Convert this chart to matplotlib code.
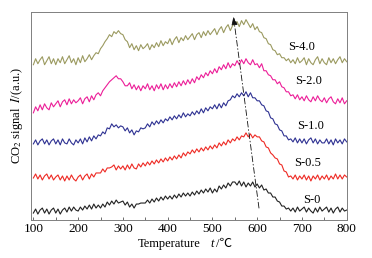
import numpy as np
import matplotlib
matplotlib.use("Agg")
import matplotlib.pyplot as plt
from matplotlib.ticker import MultipleLocator

plt.rcParams['font.family'] = ['Liberation Serif', 'DejaVu Serif']
plt.rcParams['mathtext.fontset'] = 'stix'

# Temperature grid (5 degC steps, 100..800)
temperature = np.arange(100, 801, 5)

# CO2 signal traces (offset, arbitrary units)
s_40 = [155, 161, 156, 160, 163, 155, 159, 163, 156, 161,
        155, 161, 157, 163, 156, 160, 164, 157, 161, 155,
        162, 157, 164, 158, 161, 165, 160, 164, 167, 166,
        171, 174, 178, 181, 185, 183, 188, 186, 189, 186,
        185, 180, 178, 172, 176, 170, 174, 169, 175, 171,
        173, 176, 170, 175, 172, 177, 173, 179, 174, 178,
        176, 181, 175, 180, 183, 177, 182, 179, 184, 180,
        183, 186, 180, 185, 187, 182, 188, 184, 189, 185,
        188, 191, 185, 190, 193, 187, 192, 195, 189, 194,
        196, 198, 193, 199, 195, 200, 196, 192, 196, 190,
        193, 188, 187, 182, 181, 176, 175, 170, 169, 165,
        166, 162, 162, 159, 161, 157, 160, 156, 162, 157,
        159, 162, 155, 161, 157, 155, 160, 163, 156, 161,
        157, 155, 162, 157, 161, 156, 160, 163, 157, 161,
        158]
s_20 = [107, 113, 109, 115, 110, 116, 112, 110, 117, 113,
        116, 119, 113, 118, 120, 115, 121, 116, 120, 117,
        119, 122, 116, 121, 123, 118, 124, 120, 125, 127,
        124, 129, 132, 135, 138, 140, 142, 144, 141, 141,
        138, 134, 134, 137, 131, 135, 130, 134, 129, 134,
        131, 136, 130, 134, 129, 135, 131, 136, 130, 135,
        131, 136, 132, 137, 133, 138, 134, 139, 135, 140,
        136, 141, 137, 143, 140, 145, 142, 147, 144, 149,
        146, 151, 147, 153, 150, 155, 151, 157, 152, 156,
        154, 159, 155, 160, 156, 161, 157, 155, 160, 155,
        156, 152, 156, 149, 149, 145, 144, 140, 140, 136,
        138, 133, 132, 128, 128, 124, 125, 121, 125, 120,
        123, 119, 124, 120, 118, 123, 119, 124, 120, 118,
        122, 117, 121, 123, 118, 116, 121, 117, 122, 116,
        119]
s_10 = [76, 80, 75, 79, 81, 76, 80, 75, 79, 81,
        76, 80, 75, 81, 77, 76, 81, 77, 75, 80,
        77, 81, 76, 82, 78, 83, 79, 84, 81, 85,
        84, 88, 86, 92, 91, 96, 93, 95, 92, 94,
        93, 89, 92, 87, 90, 85, 89, 88, 92, 91,
        92, 96, 93, 98, 95, 99, 96, 100, 97, 101,
        99, 103, 100, 104, 101, 105, 102, 107, 103, 106,
        104, 108, 105, 109, 106, 111, 107, 112, 109, 113,
        111, 115, 111, 116, 112, 117, 114, 119, 120, 124,
        122, 126, 123, 127, 124, 128, 123, 127, 122, 122,
        119, 119, 115, 114, 109, 108, 102, 101, 96, 95,
        90, 89, 84, 84, 80, 81, 78, 82, 77, 81,
        77, 81, 76, 80, 82, 77, 81, 76, 80, 77,
        77, 81, 76, 80, 75, 81, 77, 80, 76, 81,
        78]
s_05 = [42, 46, 41, 45, 40, 44, 46, 41, 45, 40,
        43, 45, 40, 44, 39, 44, 40, 45, 41, 39,
        43, 45, 40, 44, 46, 41, 46, 43, 47, 47,
        47, 51, 48, 52, 52, 53, 55, 50, 54, 51,
        54, 50, 55, 51, 56, 52, 51, 56, 53, 57,
        54, 58, 55, 59, 56, 60, 57, 61, 58, 62,
        59, 63, 60, 64, 61, 65, 62, 67, 64, 68,
        66, 70, 67, 71, 68, 72, 69, 73, 70, 74,
        71, 75, 72, 77, 74, 78, 75, 80, 77, 81,
        79, 83, 80, 84, 83, 87, 83, 86, 82, 85,
        83, 83, 79, 78, 73, 72, 67, 65, 62, 61,
        56, 55, 49, 48, 43, 44, 41, 45, 40, 44,
        41, 45, 40, 44, 39, 44, 41, 45, 40, 44,
        41, 45, 40, 44, 41, 46, 41, 45, 41, 45,
        43]
s_0 = [7, 11, 6, 10, 12, 7, 11, 6, 10, 12,
       7, 11, 6, 10, 12, 8, 13, 9, 13, 10,
       9, 13, 10, 14, 11, 15, 11, 16, 12, 15,
       12, 16, 13, 18, 15, 19, 16, 20, 17, 18,
       19, 15, 18, 13, 16, 12, 16, 16, 17, 17,
       17, 20, 17, 21, 18, 22, 19, 23, 20, 24,
       21, 24, 21, 25, 22, 26, 23, 27, 24, 27,
       24, 28, 25, 29, 26, 30, 27, 31, 28, 32,
       27, 31, 28, 34, 31, 35, 32, 37, 34, 38,
       38, 35, 39, 34, 38, 33, 37, 34, 38, 33,
       36, 32, 35, 30, 31, 27, 27, 23, 23, 19,
       18, 14, 14, 11, 12, 9, 12, 8, 13, 9,
       11, 13, 8, 12, 9, 7, 12, 8, 13, 9,
       11, 13, 8, 12, 7, 11, 13, 8, 12, 9,
       10]

series = [
    ("S-0", s_0, "#222222"),
    ("S-0.5", s_05, "#ee2a24"),
    ("S-1.0", s_10, "#2e3192"),
    ("S-2.0", s_20, "#ec1e98"),
    ("S-4.0", s_40, "#9b9a60"),
]

# label anchor (temperature, signal) for each curve name
label_pos = {"S-0": (722, 20), "S-0.5": (712, 57), "S-1.0": (720, 94),
             "S-2.0": (714, 139), "S-4.0": (700, 173)}

# dashed arrow showing the peak shift
shift_start = (604, 12)
shift_end = (547, 203)

fig = plt.figure(figsize=(3.72, 2.58), dpi=100)
ax = fig.add_axes([0.0825, 0.147, 0.8495, 0.808])

for name, vals, col in series:
    ax.plot(temperature, vals, color=col, lw=0.8)
    ax.text(*label_pos[name], name, fontsize=9, ha="center", va="center")

ax.annotate("", xy=shift_end, xytext=shift_start,
            arrowprops=dict(arrowstyle="-|>,head_length=0.5,head_width=0.18",
                            color="#111111", lw=0.6, linestyle=(0, (7, 3, 1, 3)),
                            shrinkA=0, shrinkB=0))

ax.set_xlim(94, 800)
ax.set_ylim(0, 208)
ax.xaxis.set_major_locator(MultipleLocator(100))
ax.xaxis.set_minor_locator(MultipleLocator(50))
ax.tick_params(axis="x", which="both", direction="in", length=2, width=0.6,
               labelsize=9.5, pad=2, colors="#555555", labelcolor="black")
ax.set_yticks([])
for sp in ax.spines.values():
    sp.set_color("#808080")
    sp.set_linewidth(0.7)

# x label pieces: upright word, italic symbol, unit with degree-Celsius sign
ylab = 1 - 244 / 258
fig.text(169 / 372, ylab, "Temperature", fontsize=9, ha="center", va="center")
fig.text(212 / 372, ylab, "t", fontsize=9, style="italic", ha="center", va="center")
fig.text(216 / 372, ylab, "/\u2103", fontsize=9, ha="left", va="center",
         family=["Liberation Serif", "Noto Sans CJK SC", "DejaVu Sans"])
ax.set_ylabel("CO$_2$ signal  $I$/(a.u.)", fontsize=9, labelpad=4)

fig.savefig("out.png", dpi=100)
